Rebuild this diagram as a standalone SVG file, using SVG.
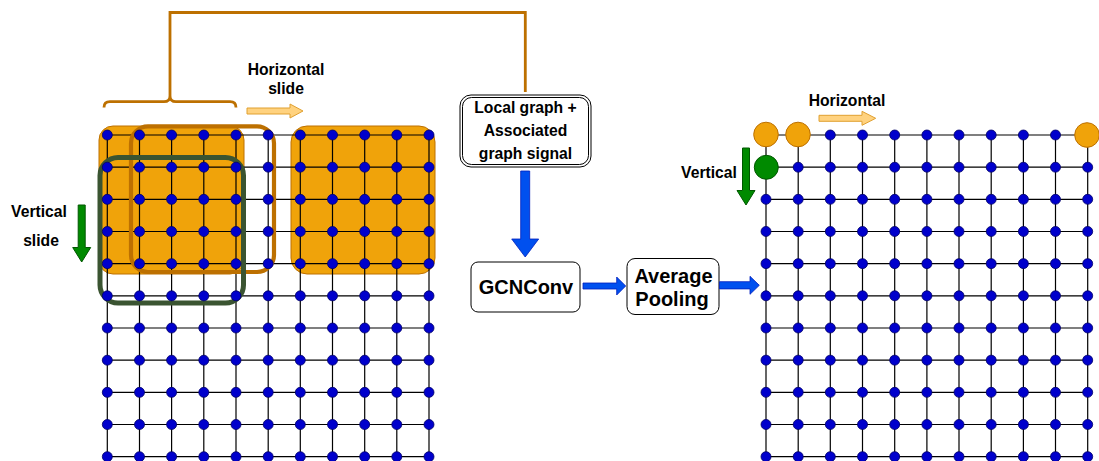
<svg xmlns="http://www.w3.org/2000/svg" xmlns:xlink="http://www.w3.org/1999/xlink" width="1099" height="461" viewBox="0 0 1099 461">
<style>
text{font-family:"Liberation Sans",Arial,sans-serif;font-weight:bold;fill:#000;text-anchor:middle}
.lbl{font-size:15.7px}
.big{font-size:20px}
.grid{stroke:#000;stroke-width:1.2;fill:none}
.node{fill:#0000CC;stroke:#000066;stroke-width:0.8}
.orng{fill:#F0A30A;stroke:#BD7000;stroke-width:1}
.grn{fill:#008A00;stroke:#005700;stroke-width:1}
.lorng{fill:#FFD27F;stroke:#E0A030;stroke-width:1}
.blue{fill:#0050EF;stroke:#001DBC;stroke-width:0.8}
.box{fill:#fff;stroke:#000;stroke-width:1}
</style>
<defs>
<circle id="n" r="5" class="node"/>
</defs>

<g id="left-windows">
<rect x="99" y="126" width="145" height="148" rx="14" class="orng"/>
<rect x="291" y="126" width="144" height="148" rx="16" class="orng"/>
</g>

<g id="left-grid">
<path class="grid" d="M107.3 135H429M107.3 167.2H429M107.3 199.3H429M107.3 231.5H429M107.3 263.7H429M107.3 295.9H429M107.3 328H429M107.3 360.2H429M107.3 392.4H429M107.3 424.5H429M107.3 456.7H429
M107.3 135V456.7M139.5 135V456.7M171.6 135V456.7M203.8 135V456.7M236 135V456.7M268.2 135V456.7M300.3 135V456.7M332.5 135V456.7M364.7 135V456.7M396.8 135V456.7M429 135V456.7"/>
</g>

<g id="slide-frames">
<rect x="131" y="126.3" width="143" height="145.7" rx="17" fill="none" stroke="#BD7000" stroke-width="4.2"/>
<rect x="100" y="157.5" width="143.5" height="145.5" rx="18" fill="none" stroke="#3A5431" stroke-width="5"/>
</g>

<g id="left-nodes">
<g id="lr0"><use href="#n" x="107.3" y="135"/><use href="#n" x="139.5" y="135"/><use href="#n" x="171.6" y="135"/><use href="#n" x="203.8" y="135"/><use href="#n" x="236" y="135"/><use href="#n" x="268.2" y="135"/><use href="#n" x="300.3" y="135"/><use href="#n" x="332.5" y="135"/><use href="#n" x="364.7" y="135"/><use href="#n" x="396.8" y="135"/><use href="#n" x="429" y="135"/></g>
<use href="#lr0" y="32.17"/>
<use href="#lr0" y="64.34"/>
<use href="#lr0" y="96.51"/>
<use href="#lr0" y="128.68"/>
<use href="#lr0" y="160.85"/>
<use href="#lr0" y="193.02"/>
<use href="#lr0" y="225.19"/>
<use href="#lr0" y="257.36"/>
<use href="#lr0" y="289.53"/>
<use href="#lr0" y="321.7"/>
</g>

<g id="right-grid">
<path class="grid" d="M766 135H1087.7M766 167.2H1087.7M766 199.3H1087.7M766 231.5H1087.7M766 263.7H1087.7M766 295.9H1087.7M766 328H1087.7M766 360.2H1087.7M766 392.4H1087.7M766 424.5H1087.7M766 456.7H1087.7
M766 135V456.7M798.2 135V456.7M830.3 135V456.7M862.5 135V456.7M894.7 135V456.7M926.9 135V456.7M959 135V456.7M991.2 135V456.7M1023.4 135V456.7M1055.5 135V456.7M1087.7 135V456.7"/>
</g>

<g id="right-nodes">
<use href="#n" x="830.3" y="135"/><use href="#n" x="862.5" y="135"/><use href="#n" x="894.7" y="135"/><use href="#n" x="926.9" y="135"/><use href="#n" x="959" y="135"/><use href="#n" x="991.2" y="135"/><use href="#n" x="1023.4" y="135"/><use href="#n" x="1055.5" y="135"/>
<use href="#n" x="798.2" y="167.2"/><use href="#n" x="830.3" y="167.2"/><use href="#n" x="862.5" y="167.2"/><use href="#n" x="894.7" y="167.2"/><use href="#n" x="926.9" y="167.2"/><use href="#n" x="959" y="167.2"/><use href="#n" x="991.2" y="167.2"/><use href="#n" x="1023.4" y="167.2"/><use href="#n" x="1055.5" y="167.2"/><use href="#n" x="1087.7" y="167.2"/>
<g id="rr2"><use href="#n" x="766" y="199.3"/><use href="#n" x="798.2" y="199.3"/><use href="#n" x="830.3" y="199.3"/><use href="#n" x="862.5" y="199.3"/><use href="#n" x="894.7" y="199.3"/><use href="#n" x="926.9" y="199.3"/><use href="#n" x="959" y="199.3"/><use href="#n" x="991.2" y="199.3"/><use href="#n" x="1023.4" y="199.3"/><use href="#n" x="1055.5" y="199.3"/><use href="#n" x="1087.7" y="199.3"/></g>
<use href="#rr2" y="32.17"/>
<use href="#rr2" y="64.34"/>
<use href="#rr2" y="96.51"/>
<use href="#rr2" y="128.68"/>
<use href="#rr2" y="160.85"/>
<use href="#rr2" y="193.02"/>
<use href="#rr2" y="225.19"/>
<use href="#rr2" y="257.36"/>
<circle cx="766" cy="134.5" r="12.3" class="orng"/>
<circle cx="798" cy="134.5" r="12.3" class="orng"/>
<circle cx="1087" cy="135" r="12.3" class="orng"/>
<circle cx="766.3" cy="167.3" r="12" class="grn"/>
</g>

<g id="local-graph-box">
<rect x="460" y="95" width="131" height="72" rx="11" class="box"/>
<rect x="462.5" y="97.5" width="126" height="67" rx="9" fill="none" stroke="#000" stroke-width="1"/>
<text class="lbl" x="525.5" y="112.5">Local graph +</text>
<text class="lbl" x="525.5" y="136">Associated</text>
<text class="lbl" x="525.5" y="159">graph signal</text>
</g>

<g id="gcnconv">
<rect x="471" y="262" width="109" height="50" rx="7" class="box"/>
<text class="big" x="526" y="294">GCNConv</text>
</g>

<g id="avg-pooling">
<rect x="627" y="258.5" width="92" height="56" rx="8" class="box"/>
<text class="big" x="673.5" y="283.3">Average</text>
<text class="big" x="672" y="305.5">Pooling</text>
</g>

<g id="labels">
<text class="lbl" x="286" y="75">Horizontal</text>
<text class="lbl" x="286" y="94.3">slide</text>
<text class="lbl" x="39" y="216.5">Vertical</text>
<text class="lbl" x="41" y="246">slide</text>
<text class="lbl" x="847" y="105.7">Horizontal</text>
<text class="lbl" x="709" y="178.3">Vertical</text>
</g>

<g id="connectors">
<path d="M104 107.5Q104 101.7 110 101.7H164Q170 101.7 170 96Q170 101.7 176 101.7H230Q236 101.7 236 107.5" fill="none" stroke="#BD7000" stroke-width="2.8"/>
<path d="M170 96V12.5H525.3V92" fill="none" stroke="#BD7000" stroke-width="2.8"/>
<path class="lorng" d="M247 108H290V104L303 111L290 118V114H247Z"/>
<path class="lorng" d="M819 115.3H862V111.3L875.7 118.3L862 125.3V121.3H819Z"/>
<path class="grn" d="M78.2 205H85.2V247.5H90.7L81.7 262L72.7 247.5H78.2Z"/>
<path class="grn" d="M742.5 148H749.5V190.5H755L746 205L737 190.5H742.5Z"/>
<path class="blue" d="M520.7 171H529.7V239H538.7L525.2 257L511.7 239H520.7Z"/>
<path class="blue" d="M583 283H616.7V277L625.7 286L616.7 295V289H583Z"/>
<path class="blue" d="M719.5 281.7H750V276.3L759.3 285.3L750 294.3V288.9H719.5Z"/>
</g>
</svg>
